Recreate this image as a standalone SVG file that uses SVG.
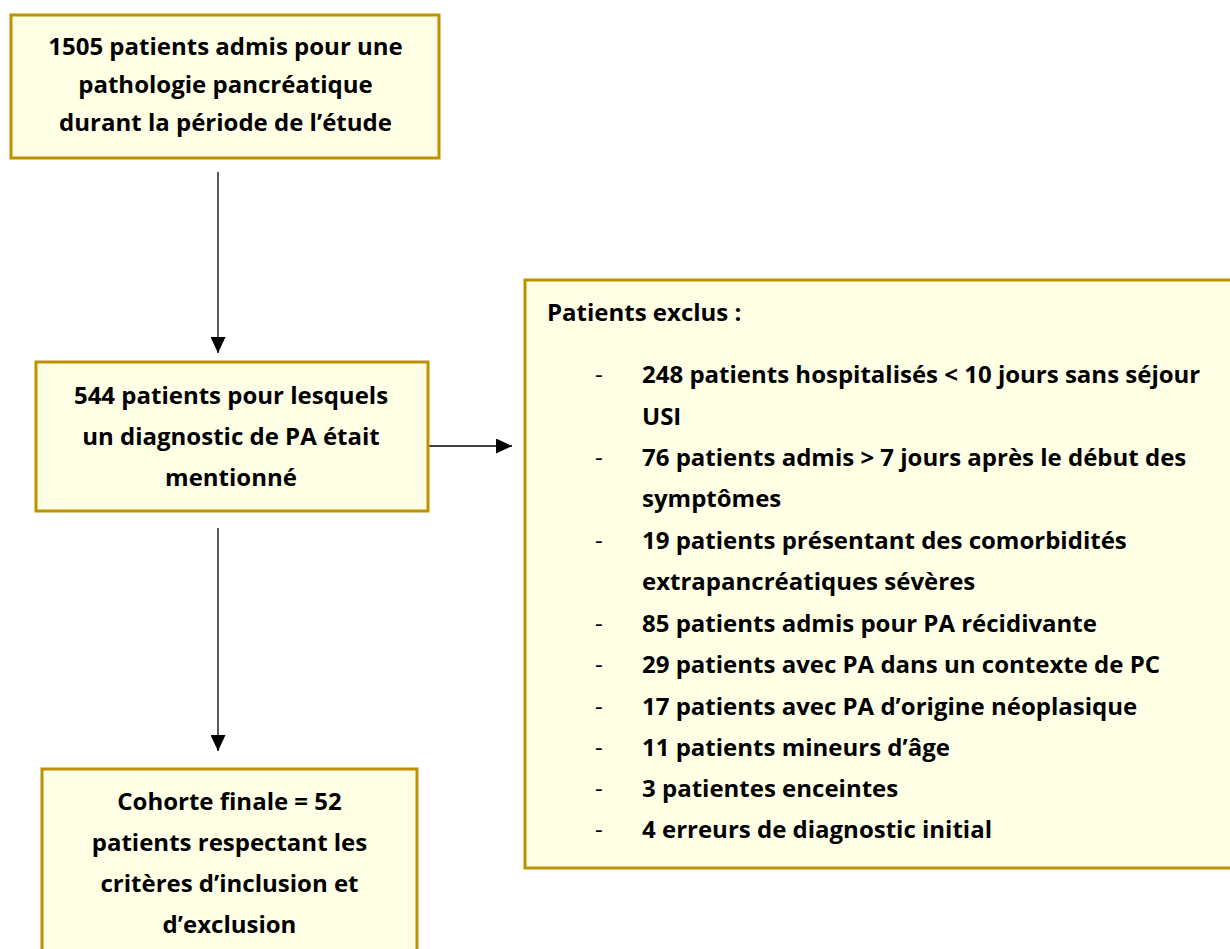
<svg xmlns="http://www.w3.org/2000/svg" width="1230" height="949" viewBox="0 0 1230 949">
<style>
.box{fill:#FFFFE6;stroke:#BF9000;stroke-width:3}
.t{font-family:"Open Sans",Lato,"Liberation Sans",sans-serif;font-weight:bold;font-size:24px;fill:#000}
.d{font-weight:normal}
.c{text-anchor:middle}
.con{stroke:#000;stroke-width:1.3;fill:none}
</style>
<defs>
<marker id="ah" viewBox="0 0 16 15" refX="16" refY="7.5" markerWidth="16" markerHeight="15" markerUnits="userSpaceOnUse" orient="auto">
<path d="M0,0 L16,7.5 L0,15 Z" fill="#000"/>
</marker>
</defs>
<g id="connectors">
<line class="con" x1="218" y1="172" x2="218" y2="353" marker-end="url(#ah)"/>
<line class="con" x1="427" y1="446" x2="512" y2="446" marker-end="url(#ah)"/>
<line class="con" x1="218" y1="528" x2="218" y2="751" marker-end="url(#ah)"/>
</g>
<g id="n1">
<rect class="box" x="11" y="15" width="428" height="143"/>
<text class="t c" x="225.5" y="55">1505 patients admis pour une</text>
<text class="t c" x="225.5" y="93">pathologie pancréatique</text>
<text class="t c" x="225.5" y="131">durant la période de l’étude</text>
</g>
<g id="n2">
<rect class="box" x="36" y="362" width="392" height="149"/>
<text class="t c" x="231" y="404">544 patients pour lesquels</text>
<text class="t c" x="231" y="445">un diagnostic de PA était</text>
<text class="t c" x="231" y="486">mentionné</text>
</g>
<g id="n3">
<rect class="box" x="525" y="280" width="711" height="588"/>
<text class="t" x="547" y="321">Patients exclus :</text>
<g class="t">
<text class="d" x="595" y="383">-</text><text x="642" y="383">248 patients hospitalisés &lt; 10 jours sans séjour</text>
<text x="642" y="425">USI</text>
<text class="d" x="595" y="466">-</text><text x="642" y="466">76 patients admis &gt; 7 jours après le début des</text>
<text x="642" y="507">symptômes</text>
<text class="d" x="595" y="549">-</text><text x="642" y="549">19 patients présentant des comorbidités</text>
<text x="642" y="590">extrapancréatiques sévères</text>
<text class="d" x="595" y="632">-</text><text x="642" y="632">85 patients admis pour PA récidivante</text>
<text class="d" x="595" y="673">-</text><text x="642" y="673">29 patients avec PA dans un contexte de PC</text>
<text class="d" x="595" y="715">-</text><text x="642" y="715">17 patients avec PA d’origine néoplasique</text>
<text class="d" x="595" y="756">-</text><text x="642" y="756">11 patients mineurs d’âge</text>
<text class="d" x="595" y="797">-</text><text x="642" y="797">3 patientes enceintes</text>
<text class="d" x="595" y="838">-</text><text x="642" y="838">4 erreurs de diagnostic initial</text>
</g>
</g>
<g id="n4">
<rect class="box" x="42" y="769" width="375" height="195"/>
<text class="t c" x="229.5" y="810">Cohorte finale = 52</text>
<text class="t c" x="229.5" y="851">patients respectant les</text>
<text class="t c" x="229.5" y="892">critères d’inclusion et</text>
<text class="t c" x="229.5" y="933">d’exclusion</text>
</g>
</svg>
